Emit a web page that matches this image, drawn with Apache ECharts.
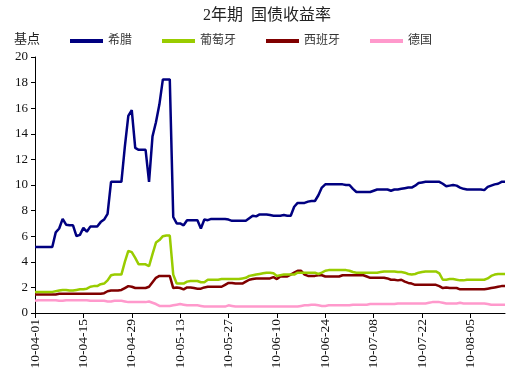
<!DOCTYPE html>
<html>
<head>
<meta charset="utf-8">
<script src="https://cdn.jsdelivr.net/npm/echarts@6/dist/echarts.min.js"></script>
<style>
  html, body { margin: 0; padding: 0; background: #fff; }
  #main { width: 515px; height: 377px; }
</style>
</head>
<body>
<div id="main"></div>
<script>
// daily dates 2010-04-01 .. 2010-08-15
const startDate = '2010-04-01'
const dayCount = 137

const seriesNames = ['希腊', '葡萄牙', '西班牙', '德国']
const seriesColors = ['#000080', '#99cc00', '#800000', '#ff99cc']

const greece = [
  5.15, 5.15, 5.15, 5.15, 5.15, 5.15, 6.3, 6.6, 7.35, 6.9,
  6.85, 6.85, 6.0, 6.1, 6.65, 6.35, 6.75, 6.75, 6.75, 7.1,
  7.3, 7.75, 10.25, 10.25, 10.25, 10.25, 13.0, 15.4, 15.85, 12.9,
  12.75, 12.75, 12.75, 10.25, 13.8, 14.9, 16.3, 18.25, 18.25, 18.25,
  7.5, 7.0, 7.0, 6.85, 7.25, 7.25, 7.25, 7.25, 6.6, 7.3,
  7.25, 7.35, 7.35, 7.35, 7.35, 7.35, 7.3, 7.2, 7.2, 7.2,
  7.2, 7.2, 7.4, 7.6, 7.55, 7.7, 7.7, 7.7, 7.65, 7.6,
  7.6, 7.6, 7.65, 7.6, 7.6, 8.3, 8.6, 8.6, 8.6, 8.7,
  8.75, 8.75, 9.2, 9.8, 10.05, 10.05, 10.05, 10.05, 10.05, 10.05,
  10.0, 10.0, 9.7, 9.45, 9.45, 9.45, 9.45, 9.45, 9.55, 9.65,
  9.65, 9.65, 9.65, 9.55, 9.65, 9.65, 9.7, 9.75, 9.8, 9.8,
  9.95, 10.15, 10.2, 10.25, 10.25, 10.25, 10.25, 10.25, 10.1, 9.9,
  9.95, 10.0, 9.95, 9.8, 9.7, 9.65, 9.65, 9.65, 9.65, 9.65,
  9.6, 9.85, 9.95, 10.05, 10.1, 10.25, 10.25
]

const portugal = [
  1.65, 1.65, 1.65, 1.65, 1.65, 1.65, 1.7, 1.75, 1.8, 1.8,
  1.75, 1.75, 1.8, 1.85, 1.85, 1.9, 2.05, 2.1, 2.1, 2.25,
  2.3, 2.55, 2.95, 3.0, 3.0, 3.0, 4.0, 4.85, 4.75, 4.3,
  3.8, 3.8, 3.8, 3.65, 4.6, 5.5, 5.7, 6.0, 6.05, 6.05,
  3.0, 2.3, 2.3, 2.3, 2.45, 2.5, 2.5, 2.5, 2.4, 2.4,
  2.6, 2.6, 2.6, 2.6, 2.65, 2.65, 2.65, 2.65, 2.65, 2.65,
  2.7, 2.75, 2.9, 2.95, 3.0, 3.05, 3.1, 3.15, 3.15, 3.1,
  2.9, 2.95, 3.0, 3.0, 3.0, 3.0, 3.15, 3.15, 3.15, 3.15,
  3.15, 3.15, 3.05, 3.15, 3.3, 3.35, 3.35, 3.35, 3.35, 3.35,
  3.35, 3.3, 3.2, 3.15, 3.15, 3.15, 3.15, 3.15, 3.15, 3.15,
  3.2, 3.25, 3.25, 3.25, 3.25, 3.2, 3.2, 3.15, 3.05, 3.0,
  3.05, 3.15, 3.2, 3.25, 3.25, 3.25, 3.25, 3.1, 2.6, 2.6,
  2.65, 2.65, 2.6, 2.55, 2.55, 2.6, 2.6, 2.6, 2.6, 2.6,
  2.6, 2.7, 2.9, 3.0, 3.05, 3.05, 3.05
]

const spain = [
  1.45, 1.45, 1.45, 1.45, 1.45, 1.45, 1.45, 1.5, 1.5, 1.5,
  1.5, 1.5, 1.5, 1.5, 1.5, 1.5, 1.5, 1.5, 1.5, 1.5,
  1.55, 1.7, 1.75, 1.75, 1.75, 1.8, 1.95, 2.1, 2.05, 1.95,
  1.95, 1.95, 1.95, 2.05, 2.4, 2.75, 2.9, 2.9, 2.9, 2.9,
  1.95, 2.0, 1.95, 1.85, 2.0, 2.0, 1.95, 1.9, 1.9, 2.0,
  2.05, 2.05, 2.05, 2.05, 2.05, 2.2, 2.35, 2.35, 2.3, 2.3,
  2.3, 2.45, 2.6, 2.65, 2.7, 2.7, 2.7, 2.7, 2.7, 2.8,
  2.65, 2.85, 2.85, 2.85, 3.0, 3.15, 3.3, 3.3, 3.0, 2.9,
  2.9, 2.9, 2.95, 2.95, 2.85, 2.85, 2.85, 2.85, 2.85, 2.95,
  2.95, 2.95, 2.95, 2.95, 2.95, 2.95, 2.85, 2.75, 2.75, 2.75,
  2.75, 2.75, 2.7, 2.6, 2.6, 2.55, 2.6, 2.45, 2.35, 2.3,
  2.2, 2.2, 2.2, 2.2, 2.2, 2.2, 2.2, 2.1, 1.95, 2.0,
  1.95, 1.95, 1.95, 1.85, 1.85, 1.85, 1.85, 1.85, 1.85, 1.85,
  1.85, 1.9, 1.95, 2.0, 2.05, 2.1, 2.1
]

const germany = [
  0.95, 1.0, 1.0, 1.0, 1.0, 1.0, 1.0, 0.95, 0.95, 1.0,
  1.0, 1.0, 1.0, 1.0, 1.0, 1.0, 0.95, 0.95, 0.95, 0.95,
  0.95, 0.9, 0.9, 0.95, 0.95, 0.95, 0.9, 0.85, 0.85, 0.85,
  0.85, 0.85, 0.85, 0.9, 0.8, 0.7, 0.55, 0.55, 0.55, 0.55,
  0.6, 0.65, 0.7, 0.65, 0.6, 0.6, 0.6, 0.6, 0.55, 0.5,
  0.5, 0.5, 0.5, 0.5, 0.5, 0.5, 0.6, 0.55, 0.5, 0.5,
  0.5, 0.5, 0.5, 0.5, 0.5, 0.5, 0.5, 0.5, 0.5, 0.5,
  0.5, 0.5, 0.5, 0.5, 0.5, 0.5, 0.5, 0.55, 0.6, 0.6,
  0.65, 0.65, 0.6, 0.55, 0.55, 0.6, 0.6, 0.6, 0.6, 0.6,
  0.6, 0.6, 0.65, 0.65, 0.65, 0.65, 0.65, 0.7, 0.7, 0.7,
  0.7, 0.7, 0.7, 0.7, 0.7, 0.75, 0.75, 0.75, 0.75, 0.75,
  0.75, 0.75, 0.75, 0.75, 0.8, 0.85, 0.85, 0.85, 0.8, 0.75,
  0.75, 0.75, 0.75, 0.8, 0.75, 0.75, 0.75, 0.75, 0.75, 0.75,
  0.75, 0.7, 0.65, 0.65, 0.65, 0.65, 0.65
]

// 类目: yy-mm-dd
function buildDates(start, n) {
  const out = []
  const d = new Date(start + 'T00:00:00Z')
  for (let i = 0; i < n; i++) {
    const yy = String(d.getUTCFullYear()).slice(2)
    const mm = String(d.getUTCMonth() + 1).padStart(2, '0')
    const dd = String(d.getUTCDate()).padStart(2, '0')
    out.push(`${yy}-${mm}-${dd}`)
    d.setUTCDate(d.getUTCDate() + 1)
  }
  return out
}
const dates = buildDates(startDate, dayCount)

const FONT = "'Liberation Serif', 'Noto Sans CJK SC', serif"
const values = [greece, portugal, spain, germany]

const chart = echarts.init(document.getElementById('main'))
chart.setOption({
  animation: false,
  textStyle: { fontFamily: FONT },
  title: [
    {
      text: '2年期  国债收益率',
      left: 198, top: 3,
      textStyle: { fontFamily: FONT, fontSize: 16, fontWeight: 'normal', color: '#222' },
    },
    {
      text: '基点',
      left: 9, top: 28,
      textStyle: { fontFamily: FONT, fontSize: 13, fontWeight: 'normal', color: '#222' },
    },
  ],
  legend: {
    left: 70, top: 35, padding: 0,
    itemWidth: 33, itemHeight: 4, itemGap: 30,
    icon: 'rect',
    textStyle: { fontFamily: FONT, fontSize: 12, color: '#333' },
    data: seriesNames,
  },
  grid: { left: 35, right: 10, top: 57, bottom: 64 },
  xAxis: {
    type: 'category',
    data: dates,
    boundaryGap: false,
    axisLine: { lineStyle: { color: '#000', width: 1 } },
    axisTick: { interval: 13, length: 5, lineStyle: { color: '#000' } },
    axisLabel: { interval: 13, rotate: 90, margin: 6, fontSize: 13.5, color: '#111', fontFamily: FONT },
    splitLine: { show: false },
  },
  yAxis: {
    type: 'value',
    min: 0, max: 20, interval: 2,
    axisLine: { show: true, lineStyle: { color: '#000', width: 1 } },
    axisTick: { show: true, length: 4, lineStyle: { color: '#000' } },
    axisLabel: { margin: 7, fontSize: 13, color: '#111', fontFamily: FONT },
    splitLine: { show: false },
  },
  series: seriesNames.map((name, i) => ({
    name,
    type: 'line',
    data: values[i],
    showSymbol: false,
    symbol: 'none',
    color: seriesColors[i],
    lineStyle: { width: 2.5, color: seriesColors[i] },
    z: 10 - i,
  })),
})
</script>
</body>
</html>
